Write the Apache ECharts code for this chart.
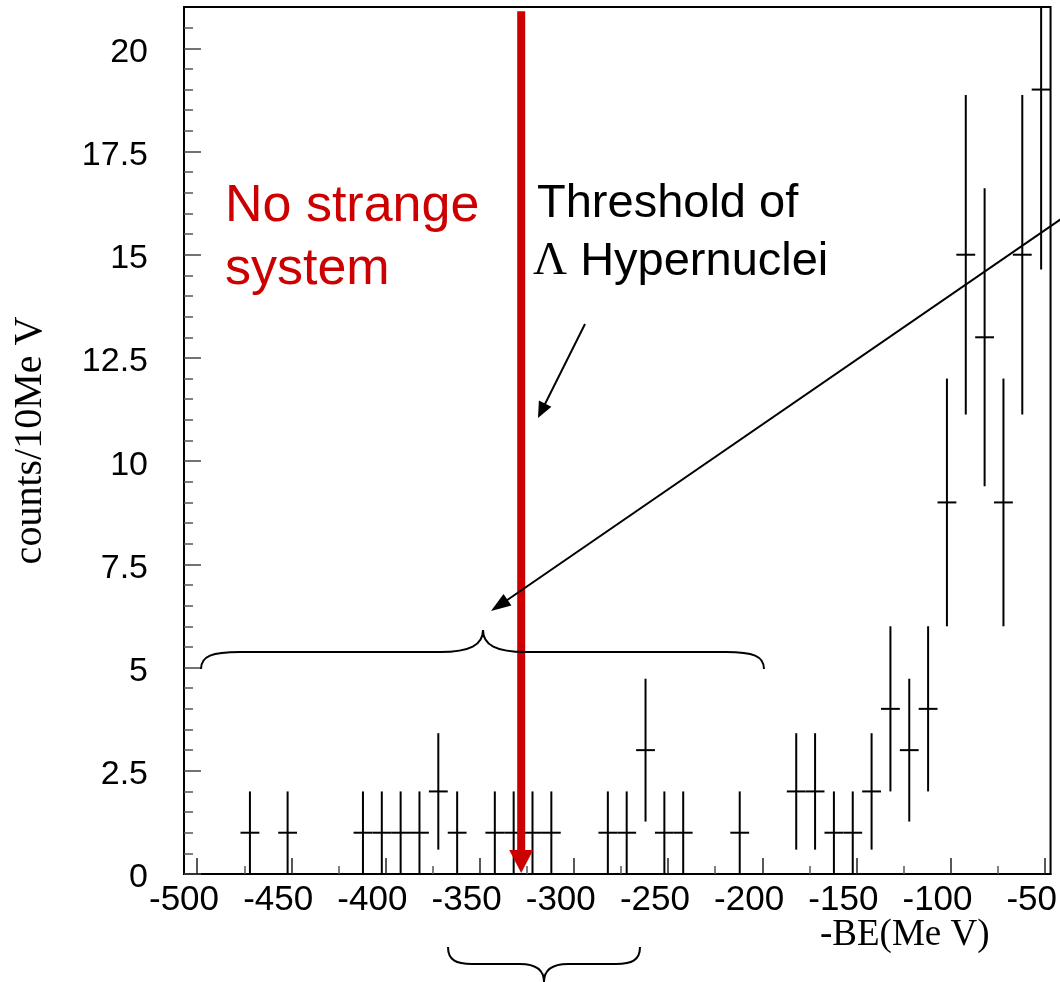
<!DOCTYPE html>
<html>
<head>
<meta charset="utf-8">
<script src="https://cdn.jsdelivr.net/npm/echarts@6/dist/echarts.min.js"></script>
<style>
html,body{margin:0;padding:0;background:#fff;}
#chart{width:1060px;height:982px;}
</style>
</head>
<body>
<div id="chart"></div>
<script>
// ---- data ----
const binCenters = [-465,-445,-405,-395,-385,-375,-365,-355,-335,-325,-315,-305,-275,-265,-255,-245,-235,-205,-175,-165,-155,-145,-135,-125,-115,-105,-95,-85,-75,-65,-55,-45];
const counts     = [1,1,1,1,1,1,2,1,1,1,1,1,1,1,3,1,1,1,2,2,1,1,2,4,3,4,9,15,13,9,15,19];
const errors     = [1,1,1,1,1,1,1.41,1,1,1,1,1,1,1,1.73,1,1,1,1.41,1.41,1,1,1.41,2,1.73,2,3,3.87,3.61,3,3.87,4.36];
const binWidth = 10;
const thresholdBE = -321;      // red arrow position (MeV)
const thresholdTop = 20.9;     // top of red arrow (counts)
const xMajorTicks = [-493,-443,-393,-343,-293,-243,-193,-143,-93,-43];
const xMinorTicks = [-468,-418,-368,-318,-268,-218,-168,-118,-68];
const yMinorTicks = [0.5,1,1.5,2,3,3.5,4,4.5,5.5,6,6.5,7,8,8.5,9,9.5,10.5,11,11.5,12,13,13.5,14,14.5,15.5,16,16.5,17,18,18.5,19,19.5,20.5];
const xTitle = '-BE(Me V)';
const yTitle = 'counts/10Me V';

const SANS = "'Liberation Sans', Arial, sans-serif";
const SERIF = "'Liberation Serif', 'Times New Roman', serif";
const RED = '#cc0000';

const histData = binCenters.map((c, i) => [c, counts[i], errors[i]]);

function arrowHead(x1, y1, x2, y2, len, half) {
  const dx = x2 - x1, dy = y2 - y1;
  const d = Math.sqrt(dx * dx + dy * dy);
  const ux = dx / d, uy = dy / d;
  const bx = x2 - ux * len, by = y2 - uy * len;
  return [[x2, y2], [bx - uy * half, by + ux * half], [bx + uy * half, by - ux * half]];
}
function bez(x1, y1, c1x, c1y, c2x, c2y, x2, y2) {
  return {type:'bezierCurve', z:90, shape:{x1:x1, y1:y1, cpx1:c1x, cpy1:c1y, cpx2:c2x, cpy2:c2y, x2:x2, y2:y2}, style:{stroke:'#000', lineWidth:2, fill:null}};
}
function seg(x1, y1, x2, y2) {
  return {type:'line', z:90, shape:{x1:x1, y1:y1, x2:x2, y2:y2}, style:{stroke:'#000', lineWidth:2}};
}

const chart = echarts.init(document.getElementById('chart'), null, {renderer: 'canvas'});

const graphics = [
  // red label
  {type:'text', x:225, y:207, z:100, style:{text:'No strange', font:'52px ' + SANS, fill:RED, align:'left', verticalAlign:'middle'}},
  {type:'text', x:225, y:270, z:100, style:{text:'system', font:'52px ' + SANS, fill:RED, align:'left', verticalAlign:'middle'}},
  // threshold label
  {type:'text', x:537, y:204, z:100, style:{text:'Threshold of', font:'47px ' + SANS, fill:'#000', align:'left', verticalAlign:'middle'}},
  {type:'text', x:533, y:262, z:100, style:{text:'{l|Λ} Hypernuclei', font:'47px ' + SANS, fill:'#000', align:'left', verticalAlign:'middle',
    rich:{l:{font:'47px ' + SERIF, fill:'#000'}}}},
  // small arrow
  seg(585, 324, 544, 406),
  {type:'polygon', z:100, shape:{points:arrowHead(585,324,538,418,16,7)}, style:{fill:'#000'}},
  // long arrow
  {type:'line', z:100, shape:{x1:1064, y1:217, x2:500, y2:605}, style:{stroke:'#000', lineWidth:2}},
  {type:'polygon', z:100, shape:{points:arrowHead(1064,217,491,611,20,7)}, style:{fill:'#000'}},
  // upper brace
  bez(201,669, 201,656, 212,652, 240,652),
  seg(240,652, 440,652),
  bez(440,652, 470,652, 483,645, 483,630),
  bez(483,630, 483,645, 496,652, 526,652),
  seg(526,652, 726,652),
  bez(726,652, 753,652, 764,656, 764,669),
  // lower brace
  bez(448,947, 448,960, 456,964, 472,964),
  seg(472,964, 520,964),
  bez(520,964, 536,964, 544,970, 544,982),
  bez(544,982, 544,970, 552,964, 568,964),
  seg(568,964, 616,964),
  bez(616,964, 632,964, 640,960, 640,947),
  // x axis title
  {type:'text', x:820, y:935, z:100, style:{text:xTitle, font:'37px ' + SERIF, fill:'#000', align:'left', verticalAlign:'middle'}}
];

const option = {
  animation: false,
  backgroundColor: '#fff',
  grid: {left:184, right:9, top:7, bottom:108, show:true, borderColor:'#000', borderWidth:2, backgroundColor:'transparent', containLabel:false},
  xAxis: [
    {type:'value', position:'bottom', min:-500, max:-40, interval:50,
     axisLine:{show:true, onZero:false, lineStyle:{color:'#000', width:2}},
     axisTick:{show:true, inside:true, length:16, customValues:xMajorTicks, lineStyle:{color:'#222', width:1.5}},
     axisLabel:{show:true, fontSize:35, fontFamily:SANS, color:'#000', margin:9, showMaxLabel:false},
     splitLine:{show:false}},
    {type:'value', position:'bottom', min:-500, max:-40, interval:50,
     axisLine:{show:false, onZero:false},
     axisTick:{show:true, inside:true, length:8, customValues:xMinorTicks, lineStyle:{color:'#555', width:1.5}},
     axisLabel:{show:false}, splitLine:{show:false}}
  ],
  yAxis: [
    {type:'value', position:'left', min:0, max:21, interval:2.5,
     name:yTitle, nameLocation:'middle', nameRotate:90, nameGap:134,
     nameTextStyle:{fontSize:40, fontFamily:SERIF, color:'#000'},
     axisLine:{show:true, onZero:false, lineStyle:{color:'#000', width:2}},
     axisTick:{show:true, inside:true, length:17, lineStyle:{color:'#444', width:1.5}},
     axisLabel:{show:true, fontSize:34, fontFamily:SANS, color:'#000', margin:36, showMaxLabel:false, verticalAlign:'top', lineHeight:8},
     splitLine:{show:false}},
    {type:'value', position:'left', min:0, max:21, interval:2.5,
     axisLine:{show:false, onZero:false},
     axisTick:{show:true, inside:true, length:9, customValues:yMinorTicks, lineStyle:{color:'#555', width:1.5}},
     axisLabel:{show:false}, splitLine:{show:false}}
  ],
  series: [
    {
      type:'custom', name:'counts', xAxisIndex:0, yAxisIndex:0, clip:true, z:5,
      data: histData,
      renderItem: function (params, api) {
        const x = api.value(0), y = api.value(1), e = api.value(2);
        const pL = api.coord([x - binWidth / 2, y]);
        const pR = api.coord([x + binWidth / 2, y]);
        const pT = api.coord([x, y + e]);
        const pB = api.coord([x, y - e]);
        return {type:'group', children:[
          {type:'line', shape:{x1:pL[0], y1:pL[1], x2:pR[0], y2:pR[1]}, style:{stroke:'#000', lineWidth:2}},
          {type:'line', shape:{x1:pT[0], y1:pT[1], x2:pB[0], y2:pB[1]}, style:{stroke:'#000', lineWidth:2}}
        ]};
      }
    },
    {
      type:'custom', name:'threshold', xAxisIndex:0, yAxisIndex:0, clip:false, z:20,
      data: [[thresholdBE, thresholdTop]],
      renderItem: function (params, api) {
        const x = api.value(0), top = api.value(1);
        const pT = api.coord([x, top]);
        const pB = api.coord([x, 0]);
        const hH = 24, hW = 24;
        return {type:'group', children:[
          {type:'rect', shape:{x:pT[0] - 4, y:pT[1], width:8, height:(pB[1] - hH) - pT[1] + 2}, style:{fill:RED}},
          {type:'polygon', shape:{points:[[pB[0] - hW / 2, pB[1] - hH], [pB[0] + hW / 2, pB[1] - hH], [pB[0], pB[1] - 1]]}, style:{fill:RED}}
        ]};
      }
    }
  ],
  graphic: graphics
};

chart.setOption(option);
</script>
</body>
</html>
